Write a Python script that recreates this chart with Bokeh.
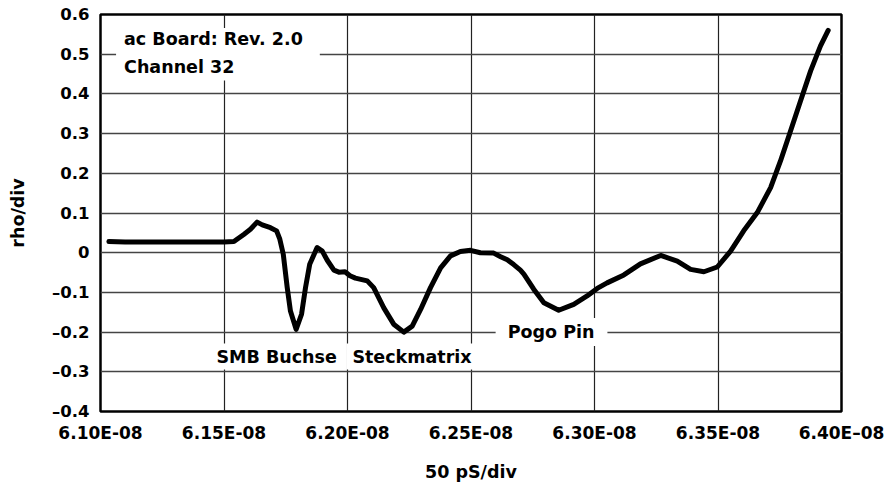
from bokeh.plotting import figure
from bokeh.models import Range1d, FixedTicker, CustomJSTickFormatter, Label
from bokeh.embed import file_html
from bokeh.resources import INLINE

# ---- data (time in seconds, reflection coefficient rho) ----
time_s = [
    6.1034e-08, 6.1100e-08, 6.1200e-08, 6.1300e-08, 6.1400e-08, 6.1500e-08,
    6.1540e-08, 6.1580e-08, 6.1607e-08, 6.1634e-08, 6.1655e-08, 6.1688e-08,
    6.1713e-08, 6.1726e-08, 6.1740e-08, 6.1756e-08, 6.1769e-08, 6.1792e-08,
    6.1814e-08, 6.1830e-08, 6.1847e-08, 6.1877e-08, 6.1898e-08, 6.1918e-08,
    6.1945e-08, 6.1965e-08, 6.1990e-08, 6.2010e-08, 6.2032e-08, 6.2080e-08,
    6.2106e-08, 6.2147e-08, 6.2187e-08, 6.2228e-08, 6.2262e-08, 6.2296e-08,
    6.2336e-08, 6.2377e-08, 6.2417e-08, 6.2457e-08, 6.2498e-08, 6.2538e-08,
    6.2592e-08, 6.2620e-08, 6.2647e-08, 6.2673e-08, 6.2700e-08, 6.2714e-08,
    6.2754e-08, 6.2795e-08, 6.2855e-08, 6.2916e-08, 6.2970e-08, 6.3011e-08,
    6.3051e-08, 6.3119e-08, 6.3186e-08, 6.3268e-08, 6.3335e-08, 6.3389e-08,
    6.3443e-08, 6.3497e-08, 6.3551e-08, 6.3604e-08, 6.3659e-08, 6.3713e-08,
    6.3753e-08, 6.3794e-08, 6.3834e-08, 6.3875e-08, 6.3915e-08, 6.3946e-08,
]
rho = [
    0.028, 0.027, 0.027, 0.027, 0.027, 0.027,
    0.028, 0.046, 0.059, 0.077, 0.070, 0.063,
    0.055, 0.034, -0.004, -0.088, -0.147, -0.193,
    -0.155, -0.088, -0.029, 0.013, 0.004, -0.019,
    -0.044, -0.049, -0.048, -0.058, -0.064, -0.071,
    -0.088, -0.139, -0.180, -0.200, -0.185, -0.143,
    -0.088, -0.038, -0.008, 0.003, 0.006, 0.000,
    -0.001, -0.010, -0.018, -0.030, -0.044, -0.054,
    -0.092, -0.126, -0.145, -0.130, -0.109, -0.090,
    -0.076, -0.056, -0.028, -0.007, -0.021, -0.042,
    -0.048, -0.036, 0.004, 0.055, 0.101, 0.164,
    0.231, 0.307, 0.382, 0.458, 0.521, 0.560,
]

x_ticks = [6.10e-08, 6.15e-08, 6.20e-08, 6.25e-08, 6.30e-08, 6.35e-08, 6.40e-08]
x_tick_labels = ["6.10E-08", "6.15E-08", "6.20E-08", "6.25E-08",
                 "6.30E-08", "6.35E-08", "6.40E\u201308"]
y_ticks = [-0.4, -0.3, -0.2, -0.1, 0.0, 0.1, 0.2, 0.3, 0.4, 0.5, 0.6]
y_tick_labels = ["\u20130.4", "\u20130.3", "\u20130.2", "\u20130.1", "0",
                 "0.1", "0.2", "0.3", "0.4", "0.5", "0.6"]

x_title = "50 pS/div"
y_title = "rho/div"
board_text = "ac Board: Rev. 2.0\nChannel 32"
annotations = [
    # (text, time, rho)
    ("SMB Buchse", 6.1713e-08, -0.2615),
    ("Steckmatrix", 6.2261e-08, -0.2615),
    ("Pogo Pin", 6.2826e-08, -0.200),
]
board_pos = (6.1063e-08, 0.566)

FONT = "DejaVu Sans"

p = figure(width=888, height=485,
           x_range=Range1d(x_ticks[0], x_ticks[-1]),
           y_range=Range1d(y_ticks[0], y_ticks[-1]),
           output_backend="svg", toolbar_location=None,
           min_border_left=100, min_border_right=47,
           min_border_top=14, min_border_bottom=74)

p.outline_line_color = "black"
p.outline_line_width = 2.5
p.outline_line_alpha = 1.0

fmt_code = """
let best = 0;
for (let i = 0; i < vals.length; i++) {
  if (Math.abs(vals[i] - tick) < Math.abs(vals[best] - tick)) best = i;
}
return labels[best];
"""

p.xaxis.ticker = FixedTicker(ticks=x_ticks)
p.xaxis.formatter = CustomJSTickFormatter(args=dict(vals=x_ticks, labels=x_tick_labels), code=fmt_code)
p.yaxis.ticker = FixedTicker(ticks=y_ticks)
p.yaxis.formatter = CustomJSTickFormatter(args=dict(vals=y_ticks, labels=y_tick_labels), code=fmt_code)

for ax in (p.xaxis[0], p.yaxis[0]):
    ax.axis_line_color = None
    ax.major_tick_line_color = None
    ax.minor_tick_line_color = None
    ax.major_tick_out = 0
    ax.major_tick_in = 0
    ax.minor_tick_out = 0
    ax.major_label_text_font = FONT
    ax.major_label_text_font_style = "bold"
    ax.major_label_text_color = "black"
    ax.axis_label_text_font = FONT
    ax.axis_label_text_font_style = "bold"
    ax.axis_label_text_color = "black"
    ax.axis_label_text_font_size = "17.5px"

p.xaxis.major_label_text_font_size = "17px"
p.yaxis.major_label_text_font_size = "16.5px"
p.xaxis.major_label_standoff = 11
p.yaxis.major_label_standoff = 11
p.xaxis.axis_label = x_title
p.yaxis.axis_label = y_title
p.xaxis.axis_label_standoff = 16
p.yaxis.axis_label_standoff = 21

p.xgrid.ticker = FixedTicker(ticks=x_ticks)
p.ygrid.ticker = FixedTicker(ticks=y_ticks)
p.xgrid.grid_line_color = "#222222"
p.xgrid.grid_line_width = 1.2
p.ygrid.grid_line_color = "#444444"
p.ygrid.grid_line_width = 1.5

p.line(time_s, rho, line_color="black", line_width=5,
       line_join="round", line_cap="round")

p.add_layout(Label(x=board_pos[0], y=board_pos[1], text=board_text,
                   anchor="top_left", text_font=FONT, text_font_style="bold",
                   text_font_size="17.5px", text_line_height=1.38,
                   text_color="black",
                   background_fill_color="white",
                   padding=dict(left=8, right=17, top=1, bottom=4)))

for txt, tx, ty in annotations:
    pad = dict(left=12, right=13, top=4, bottom=4) if txt == "Pogo Pin" else dict(left=6, right=6, top=3, bottom=3)
    p.add_layout(Label(x=tx, y=ty, text=txt, anchor="center",
                       text_font=FONT, text_font_style="bold",
                       text_font_size="17.5px", text_color="black",
                       background_fill_color="white", padding=pad))

open("out.html", "w").write(file_html(p, INLINE))
